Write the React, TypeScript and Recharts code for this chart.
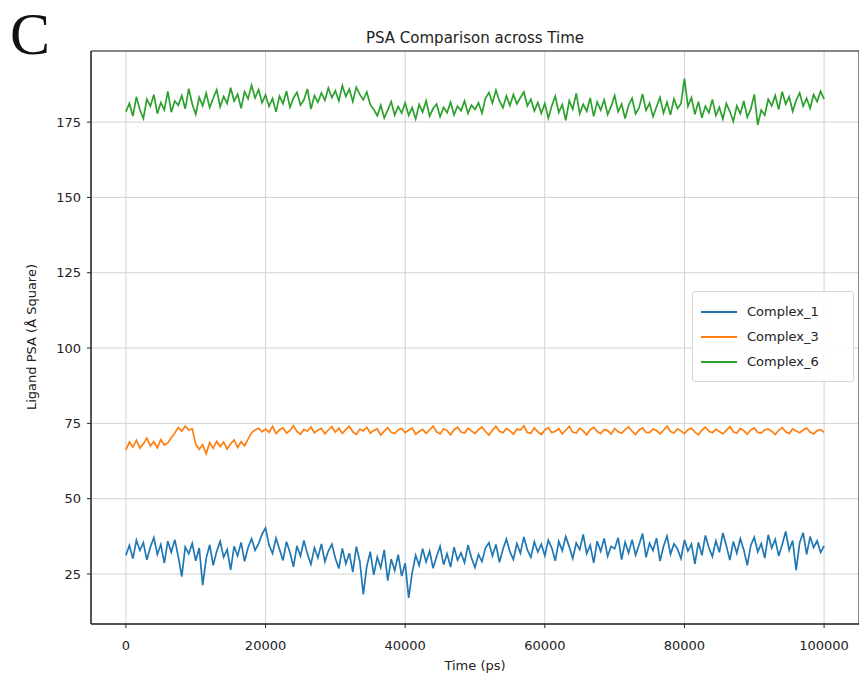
import { LineChart, Line, XAxis, YAxis, CartesianGrid, ReferenceArea } from 'recharts'

// time axis: one frame every 500 ps
const times = Array.from({ length: 201 }, (_, i) => i * 500)

const complex1 = [
  31.2, 34.5, 30.1, 36.2, 32.8, 35.4, 29.7, 33.9, 37.1, 31.5, 34.8, 28.6, 35.9, 32.2, 36.4, 30.8, 24.1, 34.0, 31.7, 35.2,
  29.4, 33.6, 21.3, 30.2, 34.7, 27.9, 32.5, 35.8, 30.6, 33.1, 26.4, 34.2, 31.0, 35.5, 29.2, 33.8, 36.7, 32.9, 35.1, 38.2,
  40.3, 34.6, 31.8, 36.9, 33.2, 29.5, 35.7, 32.1, 27.4, 34.3, 30.9, 36.1, 31.6, 28.2, 33.7, 30.4, 35.0, 29.1, 32.6, 34.9,
  30.2, 26.8, 33.5, 28.4, 31.9, 25.6, 34.1, 29.3, 18.2, 27.5, 32.4, 24.7, 30.6, 27.1, 33.0, 22.8, 29.9, 26.2, 31.4, 24.3,
  28.6, 17.1, 25.4, 31.2, 27.8, 33.4, 29.0, 32.6, 26.9, 30.8, 34.2, 28.1, 31.7, 27.3, 33.9, 29.6, 32.0, 28.8, 34.6, 30.3,
  27.2, 31.5, 29.1, 33.7, 35.4, 31.0, 34.8, 28.9, 33.2, 36.6, 32.4, 29.8, 35.1, 31.9, 37.3, 33.0, 30.6, 35.7, 32.3, 34.9,
  31.1, 36.2, 33.6, 29.4, 35.8, 32.7, 37.4, 34.0, 30.2, 35.3, 33.1, 38.1, 31.8, 34.6, 28.7, 35.9, 32.5, 36.8, 30.9, 34.2,
  33.4, 37.0, 29.8, 35.6, 32.0, 36.4, 31.3, 34.7, 38.4, 30.5, 35.2, 32.8, 36.9, 29.3, 34.1, 37.6, 31.6, 35.0, 33.3, 30.1,
  36.3, 32.6, 34.9, 28.4, 35.5, 31.2, 37.8, 33.7, 30.8, 36.0, 32.2, 38.6, 34.4, 29.6, 35.8, 31.9, 36.7, 33.0, 27.9, 34.5,
  37.2, 32.4, 35.1, 30.3, 38.0, 33.6, 36.5, 31.0, 34.8, 39.1, 32.9, 36.1, 26.3, 35.4, 38.7, 31.5, 37.4, 33.8, 36.0, 32.1,
  34.3,
]

const complex3 = [
  66.2, 68.8, 67.1, 69.4, 66.8, 68.2, 70.1, 67.5, 68.9, 66.9, 69.6, 67.8, 68.5, 70.2, 71.8, 73.6, 72.4, 74.1, 72.8, 73.2,
  68.1, 66.4, 67.9, 64.9, 68.6, 66.7, 69.0, 67.3, 68.8, 66.5, 68.2, 69.5, 67.0, 68.9, 67.6, 69.8, 71.9, 72.8, 73.4, 72.2,
  73.1, 72.0, 74.0, 71.6, 72.9, 73.5, 71.8, 72.6, 74.2, 72.3, 71.4, 73.0, 72.4, 73.8, 71.9, 72.7, 73.3, 71.5, 72.8, 73.9,
  72.1, 73.4, 71.7, 72.9, 74.0, 72.2, 71.3, 73.1, 72.5, 73.7, 71.8, 72.6, 73.2, 71.1, 72.4, 73.6, 72.0, 71.6, 72.9, 73.3,
  71.9, 72.7, 73.5, 71.4, 72.3, 73.0, 71.7, 72.8, 74.1, 72.2, 71.5, 73.2, 72.6, 71.2, 72.9, 73.7, 72.1, 71.8, 73.4, 72.5,
  71.6, 72.9, 73.8, 72.3, 71.1, 72.7, 74.0, 72.4, 71.9, 73.3, 72.6, 71.4, 73.1, 72.8, 74.2, 72.0, 71.7, 73.5, 72.2, 71.3,
  72.8, 73.6, 71.9, 72.4, 73.2, 71.5, 72.7, 74.0, 72.1, 71.8, 73.4, 72.5, 71.2, 72.9, 73.7, 72.3, 71.6, 73.0, 72.6, 71.4,
  73.3, 72.2, 71.7, 72.9, 73.8, 72.4, 71.3, 72.8, 73.5, 72.0, 71.9, 73.1, 72.6, 71.5, 72.7, 74.1, 72.3, 71.8, 73.2, 72.5,
  71.6, 72.9, 73.4, 72.1, 71.2, 72.8, 73.7, 72.4, 71.9, 73.0, 72.3, 71.5, 72.7, 73.9, 72.2, 71.7, 73.3, 72.6, 71.4, 72.8,
  73.5, 72.0, 71.8, 72.9, 73.1, 72.4, 71.3, 72.7, 73.6, 72.2, 71.6, 73.2, 72.5, 71.9, 72.8, 73.4, 72.1, 71.5, 72.6, 72.9,
  72.0,
]

const complex6 = [
  178.5, 181.2, 177.0, 183.4, 179.1, 176.2, 182.6, 180.3, 184.1, 177.8, 181.5, 179.0, 185.2, 178.3, 182.0, 180.6, 183.8, 179.4, 186.1, 181.0,
  177.6, 183.2, 180.4, 184.6, 179.8, 182.9, 185.7, 180.1, 183.5, 181.2, 186.4, 182.0, 184.3, 179.6, 185.1, 182.7, 187.2, 183.0, 185.8, 181.4,
  184.0, 180.2, 182.8, 178.4, 183.6, 181.1, 185.3, 179.9, 183.0, 184.9, 180.7, 182.4, 186.0, 179.3, 183.8, 181.6, 184.7, 182.2, 186.3, 183.1,
  185.4, 182.0, 187.1, 183.5, 185.9, 181.8, 186.6, 184.2, 182.4, 185.0, 180.8, 179.2, 177.1, 180.6, 176.4, 179.0, 181.8, 177.3, 180.2, 178.0,
  181.4, 177.2, 179.8, 176.0, 180.9, 178.3, 182.1, 177.0, 179.5, 181.0, 176.8, 179.9, 178.1, 181.6, 177.4, 180.3, 178.8, 182.0, 177.9, 180.6,
  179.2, 181.4, 178.0, 182.9, 184.8, 181.3, 185.6, 182.0, 179.8, 183.7, 180.5, 184.2, 181.0, 183.1, 185.0, 180.4, 182.6, 178.7, 181.5, 177.9,
  181.2, 176.3, 180.4, 183.6, 178.2, 180.8, 175.6, 182.1, 179.3, 184.5, 177.8, 180.9, 178.6, 183.0, 176.9, 181.7, 179.0, 182.4, 177.5, 180.2,
  183.8, 178.4, 181.0, 176.2, 180.6, 182.9, 177.7, 179.8, 184.3, 178.9, 181.3, 176.8, 180.1, 183.2, 178.0, 181.6, 177.4, 182.7, 179.5, 181.1,
  189.4, 180.2, 183.1, 177.6, 181.8, 176.4, 180.3, 178.1, 182.5, 177.2, 179.9, 176.0, 181.2, 178.5, 175.2, 180.4, 177.8, 182.0, 176.6, 179.3,
  184.2, 174.1, 179.0, 177.3, 182.6, 180.4, 183.8, 179.2, 185.1, 181.0, 183.4, 178.6, 182.2, 184.7, 180.3, 182.9, 179.6, 184.1, 181.8, 185.2,
  182.6,
]

const seriesNames = ['Complex_1', 'Complex_3', 'Complex_6']
const seriesColors = ['#1f77b4', '#ff7f0e', '#2ca02c']

const xTicks = [0, 20000, 40000, 60000, 80000, 100000]
const yTicks = [25, 50, 75, 100, 125, 150, 175]

const data = times.map((t, i) => ({
  t,
  Complex_1: complex1[i],
  Complex_3: complex3[i],
  Complex_6: complex6[i],
}))

const font = '"DejaVu Sans", sans-serif'
const tickStyle = { fontSize: 13, fill: '#222', fontFamily: font }

export default function App() {
  return (
    <div style={{ position: 'relative', width: 867, height: 681, margin: -8, background: '#fff' }}>
      <LineChart width={867} height={681} data={data} margin={{ top: 51, right: 8, left: 0, bottom: 0 }}>
        <CartesianGrid stroke="#d2d2d2" strokeWidth={1} />
        <XAxis
          dataKey="t"
          type="number"
          domain={[-5000, 105000]}
          ticks={xTicks}
          height={57}
          tick={tickStyle}
          tickSize={4}
          tickMargin={13}
          stroke="#222"
        />
        <YAxis
          type="number"
          domain={[8.4, 198.6]}
          ticks={yTicks}
          allowDataOverflow
          width={91}
          tick={tickStyle}
          tickSize={4}
          tickMargin={6}
          stroke="#222"
          label={{
            content: () => (
              <text
                x={31}
                y={337}
                transform="rotate(-90, 31, 337)"
                textAnchor="middle"
                dominantBaseline="central"
                fontSize={13}
                fill="#222"
                fontFamily={font}
              >
                Ligand PSA (Å Square)
              </text>
            ),
          }}
        />
        <ReferenceArea x1={-5000} x2={105000} y1={8.4} y2={198.6} fill="none" stroke="#222" strokeWidth={1} />
        {seriesNames.map((name, i) => (
          <Line
            key={name}
            dataKey={name}
            stroke={seriesColors[i]}
            strokeWidth={1.7}
            dot={false}
            isAnimationActive={false}
          />
        ))}
      </LineChart>
      <div
        style={{
          position: 'absolute', left: 10, top: 4, fontSize: 60, lineHeight: '60px',
          fontFamily: '"Liberation Serif", serif', color: '#111',
        }}
      >
        C
      </div>
      <div
        style={{
          position: 'absolute', left: 91, width: 768, top: 29, textAlign: 'center',
          fontSize: 15, fontFamily: font, color: '#222',
        }}
      >
        PSA Comparison across Time
      </div>
      <div
        style={{
          position: 'absolute', left: 91, width: 768, top: 658, textAlign: 'center',
          fontSize: 13, fontFamily: font, color: '#222',
        }}
      >
        Time (ps)
      </div>
      <div
        style={{
          position: 'absolute', left: 692, top: 291, width: 152,
          border: '1px solid #d6d6d6', borderRadius: 3, background: 'rgba(255,255,255,0.85)',
          padding: '7px 0 7px 8px', fontFamily: font, fontSize: 13, color: '#222',
        }}
      >
        {seriesNames.map((name, i) => (
          <div key={name} style={{ display: 'flex', alignItems: 'center', height: 25 }}>
            <span style={{ width: 36, height: 2, background: seriesColors[i], marginRight: 10 }} />
            {name}
          </div>
        ))}
      </div>
    </div>
  )
}
